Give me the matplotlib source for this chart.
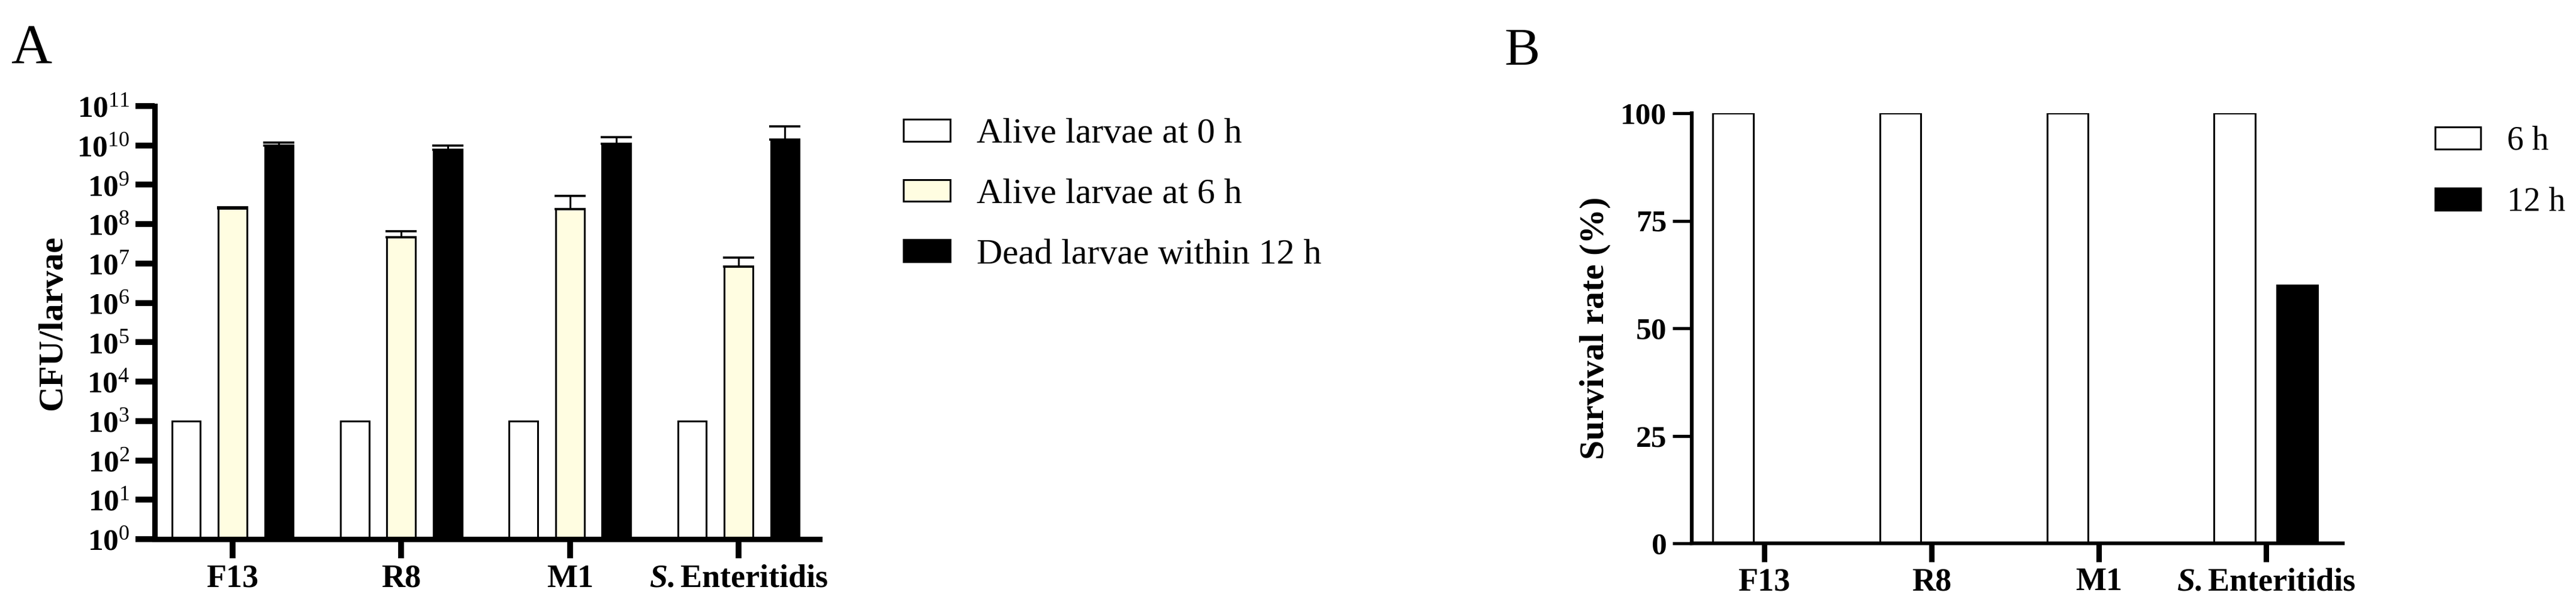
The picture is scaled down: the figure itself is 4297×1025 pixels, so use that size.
import numpy as np
import matplotlib
matplotlib.use("Agg")
import matplotlib.pyplot as plt
from matplotlib.ticker import FixedLocator, NullLocator

plt.rcParams["font.family"] = ["Liberation Serif", "DejaVu Serif"]
plt.rcParams["mathtext.fontset"] = "custom"
plt.rcParams["mathtext.rm"] = "Liberation Serif"
plt.rcParams["mathtext.bf"] = "Liberation Serif:bold"
plt.rcParams["mathtext.it"] = "Liberation Serif:italic"
plt.rcParams["mathtext.bfit"] = "Liberation Serif:italic:bold"

# ------------------------------------------------------------
# Data
# ------------------------------------------------------------
strains = ["F13", "R8", "M1", "S. Enteritidis"]
strain_labels = ["F13", "R8", "M1", r"$\mathbfit{S.}$Enteritidis"]

cfu_alive_0h = [1e3, 1e3, 1e3, 1e3]
cfu_alive_6h = [2.5e8, 4.7e7, 2.4e8, 8.4e6]
cfu_alive_6h_err = [1.5e7, 1.8e7, 2.9e8, 5.6e6]
cfu_dead_12h = [1.0e10, 7.8e9, 1.1e10, 1.42e10]
cfu_dead_12h_err = [2.0e9, 2.2e9, 5.0e9, 1.6e10]

survival_6h = [100, 100, 100, 100]
survival_12h = [0, 0, 0, 60]

log_ticks = list(range(0, 12))
survival_ticks = [0, 25, 50, 75, 100]

YELLOW = "#FFFDE1"
FS_TICK = 37
FS_XT = 39
FS_LAB = 42
W, H = 4297, 1025

fig = plt.figure(figsize=(W / 100, H / 100), dpi=100)


def px_axes(left, top, right, bottom):
    return fig.add_axes([left / W, 1 - bottom / H, (right - left) / W, (bottom - top) / H])


# ------------------------------------------------------------
# Panel A
# ------------------------------------------------------------
axA = px_axes(258, 177, 1367, 900)
x = np.arange(len(strains))
bw = 0.17
off = 0.2755

axA.bar(x - off, cfu_alive_0h, bw, color="white", edgecolor="black",
        linewidth=2.2, label="Alive larvae at 0 h", zorder=2)
axA.bar(x, cfu_alive_6h, bw, color=YELLOW, edgecolor="black",
        linewidth=2.2, label="Alive larvae at 6 h", zorder=2)
axA.bar(x + off, cfu_dead_12h, bw, color="black", edgecolor="black",
        linewidth=2.2, label="Dead larvae within 12 h", zorder=2)

axA.errorbar(x, cfu_alive_6h, yerr=[np.zeros(4), cfu_alive_6h_err], fmt="none",
             ecolor="black", elinewidth=2.2, capsize=19, capthick=2.6, zorder=1)
axA.errorbar(x + off, cfu_dead_12h, yerr=[np.zeros(4), cfu_dead_12h_err], fmt="none",
             ecolor="black", elinewidth=2.2, capsize=19, capthick=2.6, zorder=1)

axA.set_yscale("log")
axA.set_ylim(1, 1e11)
axA.set_xlim(-0.462, 3.48)
axA.yaxis.set_major_locator(FixedLocator([10.0 ** k for k in log_ticks]))
axA.yaxis.set_minor_locator(NullLocator())
axA.set_yticklabels([r"$\mathbf{10}^{\mathrm{%d}}$" % k for k in log_ticks])
axA.set_xticks(x)
axA.set_xticklabels(strain_labels, fontweight="bold", fontsize=FS_XT)
axA.set_ylabel("CFU/larvae", fontsize=FS_LAB, fontweight="bold", labelpad=10)

for s in ["top", "right"]:
    axA.spines[s].set_visible(False)
for s in ["left", "bottom"]:
    axA.spines[s].set_linewidth(6.5)
axA.tick_params(axis="y", labelsize=FS_TICK)
axA.tick_params(axis="both", width=7, length=23, pad=7)

fig.legend(handles=axA.containers[:3], loc="center left",
           bbox_to_anchor=(1507 / W, 1 - 325 / H), frameon=False,
           fontsize=43, handlelength=1.31, handleheight=0.57,
           handletextpad=0.74, labelspacing=0.78, borderpad=0, borderaxespad=0)

# ------------------------------------------------------------
# Panel B
# ------------------------------------------------------------
axB = px_axes(2822, 189, 3908, 907)
bwB = 0.244
offB = 0.188

axB.bar(x - offB, survival_6h, bwB, color="white", edgecolor="black",
        linewidth=2.2, label="6 h", zorder=2)
axB.bar(x + offB, survival_12h, bwB, color="black", edgecolor="black",
        linewidth=2.2, label="12 h", zorder=2)

axB.set_ylim(0, 100)
axB.set_xlim(-0.434, 3.459)
axB.set_yticks(survival_ticks)
axB.set_yticklabels([str(v) for v in survival_ticks], fontweight="bold", fontsize=FS_TICK)
axB.set_xticks(x)
axB.set_xticklabels(strain_labels, fontweight="bold", fontsize=FS_XT)
axB.set_ylabel("Survival rate (%)", fontsize=FS_LAB, fontweight="bold", labelpad=12)

for s in ["top", "right"]:
    axB.spines[s].set_visible(False)
for s in ["left", "bottom"]:
    axB.spines[s].set_linewidth(4.5)
axB.tick_params(axis="both", pad=7)
axB.tick_params(axis="y", width=3.8, length=23)
axB.tick_params(axis="x", width=6.5, length=22)

fig.legend(handles=axB.containers[:2], loc="center left",
           bbox_to_anchor=(4062 / W, 1 - 287 / H), frameon=False,
           fontsize=40, handlelength=1.37, handleheight=0.65,
           handletextpad=0.79, labelspacing=0.9, borderpad=0, borderaxespad=0)

# panel letters
fig.text(18 / W, 1 - 105 / H, "A", fontsize=68, va="baseline", ha="left")
fig.text(2509 / W, 1 - 108 / H, "B", fontsize=64, va="baseline", ha="left")

fig.savefig("out.png", dpi=100)
